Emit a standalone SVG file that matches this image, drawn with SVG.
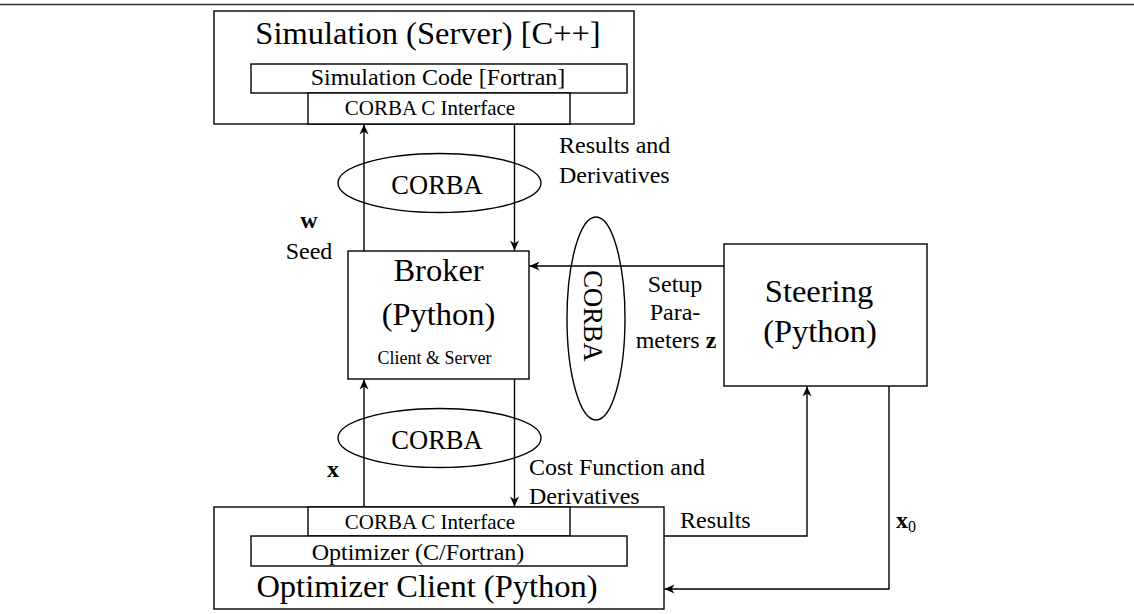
<svg xmlns="http://www.w3.org/2000/svg" width="1134" height="614" viewBox="0 0 1134 614">
  <style>
    .box { fill: #fff; stroke: #000; stroke-width: 1.4; }
    .wire { fill: none; stroke: #000; stroke-width: 1.4; }
    .oval { fill: none; stroke: #000; stroke-width: 1.4; }
    text { font-family: "Liberation Serif", "Times New Roman", serif; fill: #000; }
    .big { font-size: 32.5px; text-anchor: middle; }
    .mid { font-size: 24px; }
    .c { text-anchor: middle; }
    .small { font-size: 21px; text-anchor: middle; }
    .orb { font-size: 26.5px; text-anchor: middle; }
    .b { font-weight: bold; }
  </style>
  <defs>
    <marker id="arrow" viewBox="-12 -6 14 12" markerWidth="14" markerHeight="12" refX="0" refY="0" orient="auto" markerUnits="userSpaceOnUse">
      <path d="M0,0 L-10,-4.5 L-7,0 L-10,4.5 Z" fill="#000"/>
    </marker>
  </defs>

  <rect width="1134" height="614" fill="#fff"/>
  <line x1="0" y1="4.5" x2="1134" y2="4.5" stroke="#333" stroke-width="1.6"/>

  <!-- simulation server -->
  <g id="simulation">
    <rect class="box" x="214" y="11" width="420" height="113"/>
    <text class="big" x="428" y="44">Simulation (Server) [C++]</text>
    <rect class="box" x="251" y="64" width="376" height="29"/>
    <text class="mid c" x="438" y="85">Simulation Code [Fortran]</text>
    <rect class="box" x="308" y="93" width="262" height="31"/>
    <text class="small" x="430" y="115">CORBA C Interface</text>
  </g>

  <!-- broker -->
  <g id="broker">
    <rect class="box" x="348" y="251" width="181" height="128"/>
    <text class="big" x="438.5" y="281">Broker</text>
    <text class="big" x="438.5" y="325">(Python)</text>
    <text x="434.5" y="364" font-size="18" text-anchor="middle">Client &amp; Server</text>
  </g>

  <!-- steering -->
  <g id="steering">
    <rect class="box" x="724" y="244" width="203" height="142"/>
    <text class="big" x="819" y="302">Steering</text>
    <text class="big" x="820" y="342">(Python)</text>
  </g>

  <!-- optimizer client -->
  <g id="optimizer">
    <rect class="box" x="214" y="507" width="450" height="102"/>
    <rect class="box" x="308" y="507" width="262" height="29"/>
    <text class="small" x="430" y="529">CORBA C Interface</text>
    <rect class="box" x="251" y="536" width="376" height="30"/>
    <text class="mid c" x="418" y="560">Optimizer (C/Fortran)</text>
    <text class="big" x="427" y="597">Optimizer Client (Python)</text>
  </g>

  <!-- connectors and their labels -->
  <g id="connectors">
    <line class="wire" x1="364" y1="251" x2="364" y2="124.5" marker-end="url(#arrow)"/>
    <line class="wire" x1="514.5" y1="124" x2="514.5" y2="250.5" marker-end="url(#arrow)"/>
    <line class="wire" x1="724" y1="266" x2="529.5" y2="266" marker-end="url(#arrow)"/>
    <line class="wire" x1="364" y1="507" x2="364" y2="379.5" marker-end="url(#arrow)"/>
    <line class="wire" x1="514.5" y1="379" x2="514.5" y2="506.5" marker-end="url(#arrow)"/>
    <polyline class="wire" points="664,536 807,536 807,386.5" marker-end="url(#arrow)"/>
    <polyline class="wire" points="889,386 889,589 664.5,589" marker-end="url(#arrow)"/>

    <ellipse class="oval" cx="439.5" cy="183" rx="101.5" ry="29.5"/>
    <text class="orb" x="437" y="194">CORBA</text>
    <ellipse class="oval" cx="439.5" cy="438" rx="101.5" ry="29.5"/>
    <text class="orb" x="437" y="449">CORBA</text>
    <ellipse class="oval" cx="596" cy="318.5" rx="29" ry="101.5"/>
    <text class="orb" transform="translate(584,316) rotate(90)">CORBA</text>

    <text class="mid" x="559" y="153">Results and</text>
    <text class="mid" x="559" y="183">Derivatives</text>
    <text class="mid c b" x="309" y="228">w</text>
    <text class="mid c" x="309" y="259">Seed</text>
    <text class="mid c" x="675" y="292">Setup</text>
    <text class="mid c" x="675" y="320">Para-</text>
    <text class="mid c" x="676" y="348">meters <tspan class="b">z</tspan></text>
    <text class="mid c b" x="333" y="477">x</text>
    <text class="mid" x="529" y="475">Cost Function and</text>
    <text class="mid" x="529" y="504">Derivatives</text>
    <text class="mid" x="680" y="528">Results</text>
    <text class="mid" x="896" y="528"><tspan class="b">x</tspan><tspan font-size="16" dy="4">0</tspan></text>
  </g>
</svg>
